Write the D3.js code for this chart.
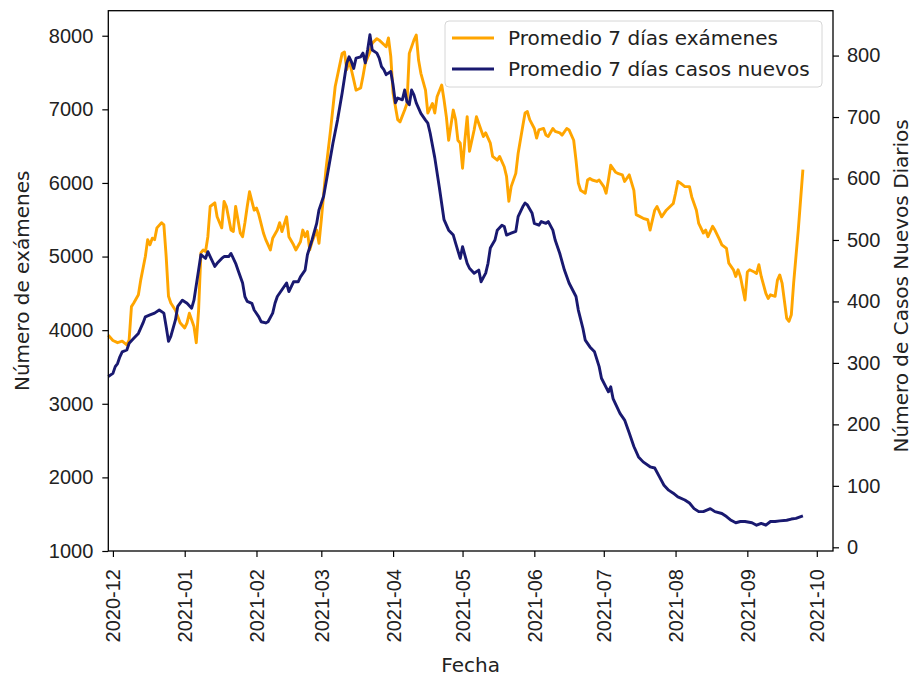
<!DOCTYPE html>
<html>
<head>
<meta charset="utf-8">
<script src="https://cdn.jsdelivr.net/npm/d3@7"></script>
<style>
  body { margin: 0; background: #fff; }
  svg { display: block; font-family: "DejaVu Sans", sans-serif; }
</style>
</head>
<body>
<div id="chart"></div>
<script>
// promedio móvil 7 días de exámenes (eje izquierdo)
const fechasExamenes = [
  "2020-11-29","2020-12-01","2020-12-03","2020-12-05","2020-12-07","2020-12-08","2020-12-09","2020-12-10","2020-12-12","2020-12-13",
  "2020-12-15","2020-12-16","2020-12-17","2020-12-18","2020-12-19","2020-12-20","2020-12-22","2020-12-23","2020-12-24","2020-12-25",
  "2020-12-26","2020-12-28","2020-12-30","2021-01-01","2021-01-02","2021-01-03","2021-01-05","2021-01-06","2021-01-07","2021-01-08",
  "2021-01-09","2021-01-10","2021-01-11","2021-01-12","2021-01-14","2021-01-15","2021-01-17","2021-01-18","2021-01-19","2021-01-21",
  "2021-01-22","2021-01-23","2021-01-25","2021-01-26","2021-01-27","2021-01-28","2021-01-29","2021-01-31","2021-02-01","2021-02-02",
  "2021-02-04","2021-02-05","2021-02-07","2021-02-08","2021-02-10","2021-02-11","2021-02-12","2021-02-14","2021-02-15","2021-02-17",
  "2021-02-18","2021-02-20","2021-02-21","2021-02-22","2021-02-23","2021-02-24","2021-02-25","2021-02-27","2021-02-28","2021-03-01",
  "2021-03-03","2021-03-05","2021-03-07","2021-03-10","2021-03-11","2021-03-12","2021-03-13","2021-03-15","2021-03-16","2021-03-18",
  "2021-03-19","2021-03-20","2021-03-22","2021-03-23","2021-03-25","2021-03-26","2021-03-28","2021-03-29","2021-03-30","2021-03-31",
  "2021-04-01","2021-04-03","2021-04-04","2021-04-06","2021-04-07","2021-04-08","2021-04-10","2021-04-11","2021-04-12","2021-04-13",
  "2021-04-15","2021-04-16","2021-04-18","2021-04-19","2021-04-20","2021-04-22","2021-04-23","2021-04-24","2021-04-25","2021-04-27",
  "2021-04-28","2021-04-29","2021-04-30","2021-05-01","2021-05-02","2021-05-03","2021-05-04","2021-05-06","2021-05-07","2021-05-09",
  "2021-05-10","2021-05-11","2021-05-13","2021-05-14","2021-05-16","2021-05-17","2021-05-19","2021-05-20","2021-05-21","2021-05-22",
  "2021-05-24","2021-05-25","2021-05-27","2021-05-28","2021-05-29","2021-05-30","2021-06-01","2021-06-02","2021-06-03","2021-06-05",
  "2021-06-06","2021-06-07","2021-06-09","2021-06-10","2021-06-12","2021-06-13","2021-06-15","2021-06-16","2021-06-18","2021-06-19",
  "2021-06-20","2021-06-21","2021-06-23","2021-06-24","2021-06-25","2021-06-26","2021-06-28","2021-06-29","2021-07-01","2021-07-02",
  "2021-07-03","2021-07-04","2021-07-06","2021-07-07","2021-07-09","2021-07-10","2021-07-12","2021-07-14","2021-07-15","2021-07-18",
  "2021-07-20","2021-07-21","2021-07-23","2021-07-24","2021-07-26","2021-07-28","2021-07-31","2021-08-01","2021-08-02","2021-08-03",
  "2021-08-05","2021-08-07","2021-08-08","2021-08-10","2021-08-11","2021-08-13","2021-08-14","2021-08-15","2021-08-17","2021-08-18",
  "2021-08-20","2021-08-21","2021-08-23","2021-08-24","2021-08-26","2021-08-27","2021-08-28","2021-08-29","2021-08-31","2021-09-01",
  "2021-09-02","2021-09-04","2021-09-05","2021-09-06","2021-09-07","2021-09-09","2021-09-10","2021-09-11","2021-09-13","2021-09-14",
  "2021-09-15","2021-09-16","2021-09-18","2021-09-19","2021-09-20","2021-09-21","2021-09-23","2021-09-25"
];
const examenes = [
  3930,3860,3830,3850,3800,3870,4320,4370,4480,4680,
  5000,5230,5160,5250,5230,5390,5460,5430,5000,4460,
  4370,4270,4100,4030,4100,4230,4050,3830,4270,5050,
  5090,5070,5270,5680,5730,5540,5390,5750,5680,5360,
  5340,5680,5320,5270,5460,5680,5880,5630,5660,5570,
  5320,5230,5090,5250,5360,5460,5340,5540,5270,5160,
  5090,5200,5360,5270,5340,5090,5200,5360,5180,5500,
  6180,6720,7310,7760,7780,7540,7670,7400,7260,7290,
  7450,7630,7780,7900,7960,7940,7880,7850,7970,7720,
  7220,6860,6830,6990,7080,7760,7940,8010,7670,7490,
  7260,6950,7080,6950,7170,7330,7130,6900,6580,6990,
  6860,6580,6540,6200,6580,6900,6430,6720,6900,6720,
  6630,6680,6540,6360,6310,6360,6220,6090,5750,5950,
  6130,6400,6770,6950,6970,6860,6740,6610,6720,6740,
  6650,6630,6740,6700,6680,6650,6740,6720,6580,6310,
  6000,5900,5860,6040,6060,6040,6020,6040,5950,5860,
  6040,6240,6150,6130,6110,6020,6110,5900,5570,5520,
  5500,5360,5630,5680,5540,5630,5720,5860,6020,6000,
  5950,5950,5810,5630,5450,5320,5360,5270,5410,5360,
  5230,5160,5110,4910,4820,4730,4820,4730,4410,4790,
  4820,4790,4770,4890,4730,4500,4430,4480,4460,4680,
  4750,4640,4160,4120,4210,4640,5360,6180
];

// promedio móvil 7 días de casos nuevos (eje derecho)
const fechasCasos = [
  "2020-11-29","2020-12-01","2020-12-02","2020-12-03","2020-12-04","2020-12-05","2020-12-07","2020-12-08","2020-12-10","2020-12-12",
  "2020-12-14","2020-12-15","2020-12-17","2020-12-19","2020-12-21","2020-12-23","2020-12-24","2020-12-25","2020-12-26","2020-12-28",
  "2020-12-29","2020-12-31","2021-01-02","2021-01-04","2021-01-05","2021-01-07","2021-01-08","2021-01-10","2021-01-11","2021-01-12",
  "2021-01-14","2021-01-15","2021-01-17","2021-01-18","2021-01-20","2021-01-21","2021-01-23","2021-01-24","2021-01-26","2021-01-27",
  "2021-01-28","2021-01-30","2021-01-31","2021-02-02","2021-02-03","2021-02-05","2021-02-06","2021-02-08","2021-02-09","2021-02-10",
  "2021-02-12","2021-02-14","2021-02-15","2021-02-17","2021-02-19","2021-02-20","2021-02-22","2021-02-23","2021-02-25","2021-02-27",
  "2021-02-28","2021-03-02","2021-03-04","2021-03-06","2021-03-08","2021-03-10","2021-03-12","2021-03-13","2021-03-14","2021-03-15",
  "2021-03-16","2021-03-18","2021-03-19","2021-03-20","2021-03-21","2021-03-22","2021-03-23","2021-03-25","2021-03-26","2021-03-27",
  "2021-03-28","2021-03-29","2021-03-31","2021-04-01","2021-04-02","2021-04-03","2021-04-05","2021-04-06","2021-04-07","2021-04-08",
  "2021-04-09","2021-04-10","2021-04-11","2021-04-13","2021-04-15","2021-04-16","2021-04-17","2021-04-19","2021-04-21","2021-04-23",
  "2021-04-25","2021-04-27","2021-04-28","2021-04-30","2021-05-01","2021-05-03","2021-05-04","2021-05-06","2021-05-08","2021-05-09",
  "2021-05-11","2021-05-12","2021-05-13","2021-05-15","2021-05-16","2021-05-18","2021-05-19","2021-05-20","2021-05-22","2021-05-24",
  "2021-05-25","2021-05-27","2021-05-28","2021-05-29","2021-05-31","2021-06-01","2021-06-03","2021-06-04","2021-06-06","2021-06-07",
  "2021-06-09","2021-06-10","2021-06-12","2021-06-14","2021-06-16","2021-06-19","2021-06-20","2021-06-22","2021-06-23","2021-06-25",
  "2021-06-27","2021-06-29","2021-06-30","2021-07-03","2021-07-04","2021-07-05","2021-07-08","2021-07-10","2021-07-12","2021-07-14",
  "2021-07-16","2021-07-18","2021-07-21","2021-07-23","2021-07-25","2021-07-27","2021-07-29","2021-07-31","2021-08-02","2021-08-05",
  "2021-08-07","2021-08-09","2021-08-11","2021-08-13","2021-08-16","2021-08-18","2021-08-21","2021-08-23","2021-08-25","2021-08-27",
  "2021-08-29","2021-08-31","2021-09-03","2021-09-05","2021-09-07","2021-09-09","2021-09-11","2021-09-13","2021-09-15","2021-09-18",
  "2021-09-20","2021-09-22","2021-09-25"
];
const casos = [
  278,283,294,299,310,318,321,332,340,348,
  365,375,378,381,386,381,359,335,343,370,
  392,402,397,389,402,451,476,470,481,473,
  457,462,470,473,473,478,462,451,430,408,
  400,397,386,375,367,365,367,381,397,408,
  419,430,416,432,432,440,451,476,500,527,
  549,571,614,657,695,739,788,798,790,779,
  796,798,804,788,809,834,809,804,796,782,
  777,769,774,752,723,731,728,744,725,720,
  744,736,723,706,695,690,674,634,585,533,
  516,508,495,470,489,462,454,446,451,432,
  446,462,487,500,516,524,522,508,511,514,
  538,554,560,557,544,527,524,530,527,530,
  516,500,478,451,430,408,386,356,337,326,
  318,294,275,253,261,242,218,207,186,164,
  147,139,131,129,115,101,93,88,82,77,
  72,63,58,58,63,58,55,50,44,40,
  42,42,40,36,39,36,42,42,43,44,
  46,47,51
];

const ticksExamenes = [1000, 2000, 3000, 4000, 5000, 6000, 7000, 8000];
const ticksCasos = [0, 100, 200, 300, 400, 500, 600, 700, 800];
const ticksMeses = ["2020-12-01","2021-01-01","2021-02-01","2021-03-01","2021-04-01","2021-05-01",
                    "2021-06-01","2021-07-01","2021-08-01","2021-09-01","2021-10-01"];
const rangoFechas = ["2020-11-29", "2021-10-08"];
const rangoExamenes = [1000, 8340];
const rangoCasos = [-6, 873];
const series = ["Promedio 7 días exámenes", "Promedio 7 días casos nuevos"];
const colores = ["#FFA500", "#191970"];

const width = 914, height = 676;
const margin = { top: 10.7, right: 81, bottom: 125, left: 108.3 };
const fontSize = 20;

const parse = d3.timeParse("%Y-%m-%d");
const fmt = d3.timeFormat("%Y-%m");

const svg = d3.select("#chart")
  .append("svg")
  .attr("width", width)
  .attr("height", height);

const x = d3.scaleTime()
  .domain(rangoFechas.map(parse))
  .range([margin.left, width - margin.right]);

const yIzq = d3.scaleLinear()
  .domain(rangoExamenes)
  .range([height - margin.bottom, margin.top]);

const yDer = d3.scaleLinear()
  .domain(rangoCasos)
  .range([height - margin.bottom, margin.top]);

// lines: exámenes first, casos on top (twin axis)
const lineaExamenes = d3.line()
  .x((d, i) => x(parse(fechasExamenes[i])))
  .y(d => yIzq(d));

const lineaCasos = d3.line()
  .x((d, i) => x(parse(fechasCasos[i])))
  .y(d => yDer(d));

svg.append("path")
  .datum(examenes)
  .attr("fill", "none")
  .attr("stroke", colores[0])
  .attr("stroke-width", 2.9)
  .attr("stroke-linejoin", "round")
  .attr("d", lineaExamenes);

svg.append("path")
  .datum(casos)
  .attr("fill", "none")
  .attr("stroke", colores[1])
  .attr("stroke-width", 2.9)
  .attr("stroke-linejoin", "round")
  .attr("d", lineaCasos);

// axes
const styleAxis = g => {
  g.select(".domain").remove();
  g.selectAll(".tick line").attr("stroke", "#000").attr("stroke-width", 1.2);
  g.selectAll(".tick text").attr("fill", "#222").style("font-size", fontSize + "px");
};

svg.append("g")
  .attr("transform", `translate(${margin.left},0)`)
  .call(d3.axisLeft(yIzq).tickValues(ticksExamenes).tickSize(6).tickPadding(9).tickFormat(d3.format("d")))
  .call(styleAxis);

svg.append("g")
  .attr("transform", `translate(${width - margin.right},0)`)
  .call(d3.axisRight(yDer).tickValues(ticksCasos).tickSize(6).tickPadding(8).tickFormat(d3.format("d")))
  .call(styleAxis);

svg.append("g")
  .attr("transform", `translate(0,${height - margin.bottom})`)
  .call(d3.axisBottom(x).tickValues(ticksMeses.map(parse)).tickSize(6).tickFormat(fmt))
  .call(styleAxis)
  .call(g => g.selectAll(".tick text")
    .attr("transform", "rotate(-90)")
    .attr("text-anchor", "end")
    .attr("x", -18)
    .attr("y", 0)
    .attr("dy", "0.35em"));

// frame
svg.append("rect")
  .attr("x", margin.left)
  .attr("y", margin.top)
  .attr("width", width - margin.left - margin.right)
  .attr("height", height - margin.top - margin.bottom)
  .attr("fill", "none")
  .attr("stroke", "#000")
  .attr("stroke-width", 1.3);

// axis titles
svg.append("text")
  .attr("transform", `translate(29,${(margin.top + height - margin.bottom) / 2}) rotate(-90)`)
  .attr("text-anchor", "middle")
  .attr("fill", "#222")
  .style("font-size", fontSize + "px")
  .text("Número de exámenes");

svg.append("text")
  .attr("transform", `translate(901,${(margin.top + height - margin.bottom) / 2 + 5}) rotate(-90)`)
  .attr("text-anchor", "middle")
  .attr("dy", "0.35em")
  .attr("fill", "#222")
  .style("font-size", fontSize + "px")
  .text("Número de Casos Nuevos Diarios");

svg.append("text")
  .attr("x", (margin.left + width - margin.right) / 2)
  .attr("y", 672)
  .attr("text-anchor", "middle")
  .attr("fill", "#222")
  .style("font-size", fontSize + "px")
  .text("Fecha");

// legend
const legend = svg.append("g").attr("transform", "translate(445,21)");
legend.append("rect")
  .attr("width", 377)
  .attr("height", 66)
  .attr("rx", 4)
  .attr("fill", "#fff")
  .attr("fill-opacity", 0.8)
  .attr("stroke", "#d6d6d6");

legend.selectAll("g.item")
  .data(series)
  .join("g")
  .attr("class", "item")
  .attr("transform", (d, i) => `translate(0,${17 + i * 31})`)
  .each(function (d, i) {
    const g = d3.select(this);
    g.append("line")
      .attr("x1", 7).attr("x2", 49)
      .attr("stroke", colores[i])
      .attr("stroke-width", 2.9);
    g.append("text")
      .attr("x", 63)
      .attr("dy", "0.35em")
      .attr("fill", "#222")
      .style("font-size", fontSize + "px")
      .text(d);
  });
</script>
</body>
</html>
